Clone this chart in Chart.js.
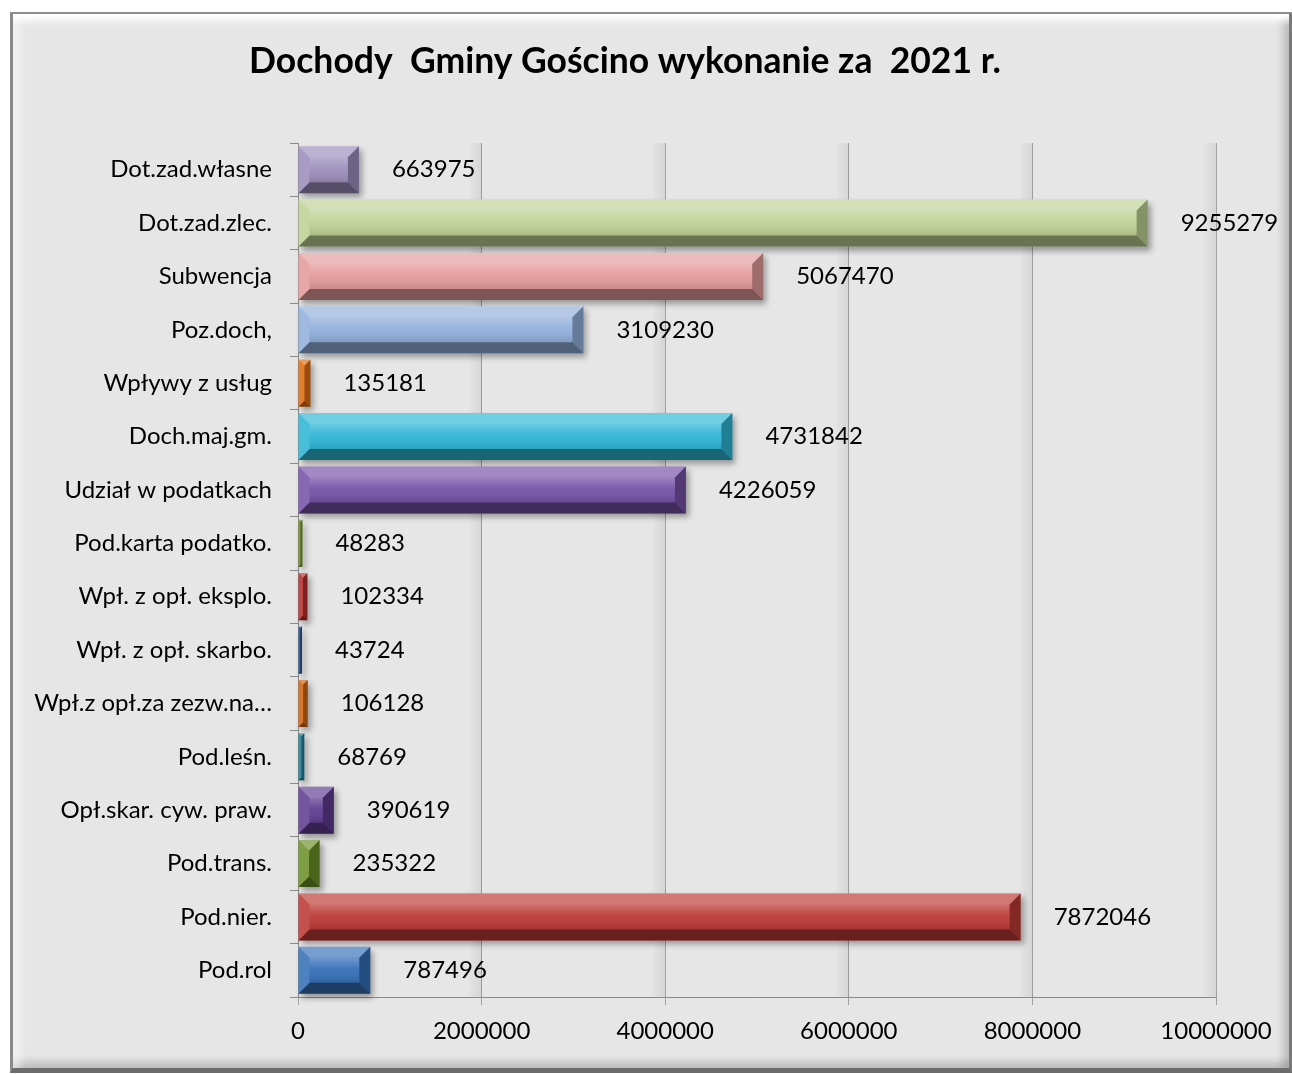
<!DOCTYPE html>
<html>
<head>
<meta charset="utf-8">
<script src="https://cdn.jsdelivr.net/npm/chart.js@4.4.1/dist/chart.umd.min.js"></script>
<style>
  html, body { margin: 0; padding: 0; background: #ffffff; }
  #wrap { position: relative; width: 1292px; height: 1074px; overflow: hidden; }
  #frame {
    position: absolute; left: 10px; top: 12px; width: 1276px; height: 1054px;
    background: #e6e6e6;
    border-style: solid; border-width: 2px 5px 5px 3px;
    border-color: #8e8e8e #7a7a7a #6c6c6c #8a8a8a;
    box-shadow: inset 0 12px 6px -5px rgba(255,255,255,0.95), inset 12px 0 8px -5px rgba(255,255,255,0.5),
                inset -10px 0 8px -4px rgba(0,0,0,0.18), inset 0 -10px 8px -4px rgba(0,0,0,0.18);
  }
  #chart { position: absolute; left: 0; top: 0; }
</style>
</head>
<body>
<div id="wrap">
  <div id="frame"></div>
  <canvas id="chart" width="1292" height="1074"></canvas>
</div>
<script>
var categories = ['Dot.zad.własne', 'Dot.zad.zlec.', 'Subwencja', 'Poz.doch,', 'Wpływy z usług', 'Doch.maj.gm.',
    'Udział w podatkach', 'Pod.karta podatko.', 'Wpł. z opł. eksplo.', 'Wpł. z opł. skarbo.', 'Wpł.z opł.za zezw.na…',
    'Pod.leśn.', 'Opł.skar. cyw. praw.', 'Pod.trans.', 'Pod.nier.', 'Pod.rol'];
var values = [663975, 9255279, 5067470, 3109230, 135181, 4731842, 4226059, 48283, 102334, 43724, 106128,
    68769, 390619, 235322, 7872046, 787496];
var barColors = ['#9d8fbd', '#bfd296', '#e49b9b', '#92b0dc', '#df6d12', '#2fb6d6', '#7652a8', '#6f8f2c',
    '#b52f2f', '#24508f', '#d26412', '#247f95', '#603d92', '#6b9128', '#bd3a36', '#3570b8'];
var xTicks = [0, 2000000, 4000000, 6000000, 8000000, 10000000];

var font = 'Lato';

// soft shadows under bars and gridlines, bevel and value labels on top
var shadowPlugin = {
    id: 'shadows',
    beforeDatasetsDraw: function(chart) {
        var ctx = chart.ctx, x = chart.scales.x, a = chart.chartArea;
        ctx.save();
        xTicks.forEach(function(t) {
            if (t === 0) return;
            var px = x.getPixelForValue(t);
            var g = ctx.createLinearGradient(px - 14, 0, px, 0);
            g.addColorStop(0, 'rgba(0,0,0,0)');
            g.addColorStop(1, 'rgba(0,0,0,0.07)');
            ctx.fillStyle = g;
            ctx.fillRect(px - 14, a.top, 14, a.bottom - a.top);
        });
        ctx.restore();
        ctx.save();
        ctx.shadowColor = 'rgba(0,0,0,0.35)';
        ctx.shadowBlur = 6;
        ctx.shadowOffsetX = 3;
        ctx.shadowOffsetY = 4;
    },
    afterDatasetsDraw: function(chart) {
        var ctx = chart.ctx;
        ctx.restore();
        chart.getDatasetMeta(0).data.forEach(function(el) {
            var p = el.getProps(['x', 'y', 'base', 'height'], true);
            var l = Math.min(p.base, p.x), r = Math.max(p.base, p.x);
            var t = p.y - p.height / 2, bm = p.y + p.height / 2;
            var b = Math.min(11, (r - l) / 2, p.height / 2);
            ctx.save();
            var face = ctx.createLinearGradient(0, t + b, 0, bm - b);
            face.addColorStop(0, 'rgba(255,255,255,0.28)');
            face.addColorStop(0.45, 'rgba(255,255,255,0.05)');
            face.addColorStop(1, 'rgba(0,0,0,0.12)');
            ctx.fillStyle = face;
            ctx.fillRect(l + b, t + b, r - l - 2 * b, bm - t - 2 * b);
            function poly(pts, c) {
                ctx.beginPath();
                ctx.moveTo(pts[0], pts[1]);
                for (var i = 2; i < pts.length; i += 2) ctx.lineTo(pts[i], pts[i + 1]);
                ctx.closePath();
                ctx.fillStyle = c;
                ctx.fill();
            }
            poly([l, t, r, t, r - b, t + b, l + b, t + b], 'rgba(255,255,255,0.32)');
            poly([l, bm, r, bm, r - b, bm - b, l + b, bm - b], 'rgba(0,0,0,0.45)');
            poly([r, t, r, bm, r - b, bm - b, r - b, t + b], 'rgba(0,0,0,0.3)');
            poly([l, t, l + b, t + b, l + b, bm - b, l, bm], 'rgba(255,255,255,0.12)');
            ctx.restore();
        });
        ctx.save();
        ctx.font = '24px ' + font;
        ctx.fillStyle = '#000';
        ctx.textAlign = 'left';
        ctx.textBaseline = 'middle';
        chart.getDatasetMeta(0).data.forEach(function(el, i) {
            ctx.fillText(String(values[i]), el.x + 33, el.y);
        });
        ctx.restore();
    }
};

var config = {
    type: 'bar',
    data: {
        labels: categories,
        datasets: [{
            data: values,
            backgroundColor: barColors,
            borderWidth: 0,
            categoryPercentage: 0.88,
            barPercentage: 1,
            clip: false
        }]
    },
    options: {
        indexAxis: 'y',
        responsive: false,
        devicePixelRatio: 1,
        animation: false,
        layout: { padding: { left: 34, right: 76, top: 0, bottom: 20 } },
        plugins: {
            legend: { display: false },
            tooltip: { enabled: false },
            title: {
                display: true,
                text: 'Dochody  Gminy Gościno wykonanie za  2021 r.',
                color: '#000',
                font: { family: font, size: 35.5, weight: 'bold', lineHeight: 1.2 },
                padding: { top: 40.7, bottom: 59.7 }
            }
        },
        scales: {
            x: {
                min: 0,
                max: 10000000,
                afterFit: function(s) { s.height = 57; },
                afterBuildTicks: function(s) { s.ticks = xTicks.map(function(v) { return { value: v }; }); },
                ticks: {
                    color: '#000',
                    font: { family: font, size: 24 },
                    padding: 12,
                    maxRotation: 0,
                    callback: function(v) { return String(v); }
                },
                grid: { color: '#a3a3a3', lineWidth: 1, drawTicks: true, tickLength: 8 },
                border: { color: '#8a8a8a' }
            },
            y: {
                afterFit: function(s) { s.width = 264; },
                ticks: { color: '#000', font: { family: font, size: 24 }, padding: 18 },
                grid: { drawOnChartArea: false, drawTicks: true, tickLength: 8, color: '#8a8a8a', offset: true },
                border: { color: '#8a8a8a' }
            }
        }
    },
    plugins: [shadowPlugin]
};

window.onload = function() {
    var ctx = document.getElementById('chart').getContext('2d');
    window.myBar = new Chart(ctx, config);
};
</script>
</body>
</html>
